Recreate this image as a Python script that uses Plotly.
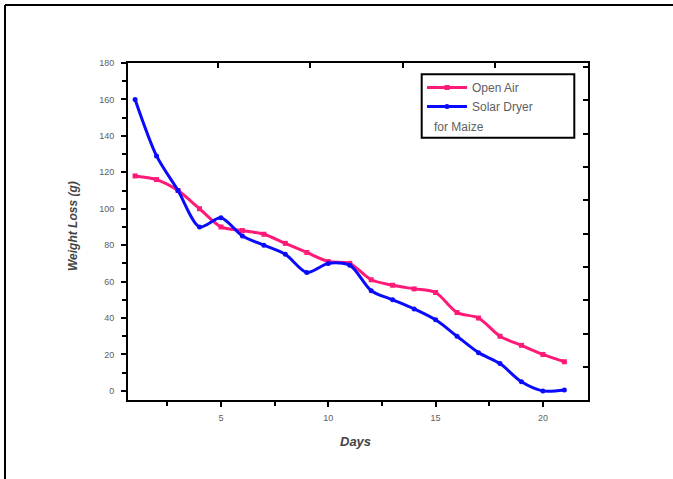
import plotly.graph_objects as go

days = list(range(1, 22))
open_air = [118, 116, 110, 100, 90, 88, 86, 81, 76, 71, 70, 61, 58, 56, 54, 43, 40, 30, 25, 20, 16]
solar_dryer = [160, 129, 110, 90, 95, 85, 80, 75, 65, 70, 69, 55, 50, 45, 39, 30, 21, 15, 5, 0, 0.5]

series_names = ["Open Air", "Solar Dryer"]
legend_extra = "for Maize"
x_title = "Days"
y_title = "Weight Loss (g)"

PINK = "#FF1A78"
BLUE = "#0A0AFF"
GRAY = "#606060"

W, H = 673, 479
L, R, T, B = 128, 85, 63, 79
PW, PH = W - L - R, H - T - B


def px(xp):
    return (xp - L) / PW


def py(yp):
    return (H - B - yp) / PH


fig = go.Figure()
fig.add_trace(go.Scatter(
    x=days, y=open_air, name=series_names[0], mode="lines+markers",
    line=dict(color=PINK, width=3, shape="spline", smoothing=0.8),
    marker=dict(symbol="square", size=5, color=PINK)))
fig.add_trace(go.Scatter(
    x=days, y=solar_dryer, name=series_names[1], mode="lines+markers",
    line=dict(color=BLUE, width=3, shape="spline", smoothing=0.8),
    marker=dict(symbol="circle", size=5, color=BLUE)))
fig.add_trace(go.Scatter(x=[None], y=[None], xaxis="x2", yaxis="y2",
                         showlegend=False, hoverinfo="skip"))

fig.update_layout(
    width=W, height=H,
    margin=dict(l=L, r=R, t=T, b=B),
    paper_bgcolor="white", plot_bgcolor="white",
    font=dict(family="Liberation Sans, Arial, sans-serif", color=GRAY, size=9),
    xaxis=dict(range=[0.67, 22.1], tick0=0, dtick=5, ticks="outside", ticklen=5,
               tickwidth=1.5, tickcolor="black", showline=True, linecolor="black",
               linewidth=2, showgrid=False, zeroline=False, ticklabelstandoff=3,
               minor=dict(dtick=2.5, ticks="outside", ticklen=4, tickcolor="black"),
               tickfont=dict(size=9, color=GRAY)),
    yaxis=dict(range=[-5, 180], tick0=0, dtick=20, ticks="outside", ticklen=5,
               tickwidth=1.5, tickcolor="black", showline=True, linecolor="black",
               linewidth=2, showgrid=False, zeroline=False, ticklabelstandoff=5,
               minor=dict(dtick=10, ticks="outside", ticklen=4, tickcolor="black"),
               tickfont=dict(size=9, color=GRAY)),
    xaxis2=dict(overlaying="x", side="top", range=[0.67, 22.1], tick0=4.86, dtick=4.3,
                ticks="inside", ticklen=5, tickwidth=1.5, tickcolor="black",
                showticklabels=False, showline=True, linecolor="black", linewidth=2,
                showgrid=False, zeroline=False),
    yaxis2=dict(overlaying="y", side="right", range=[-5, 180], tick0=13.2, dtick=18.3,
                ticks="inside", ticklen=5, tickwidth=1.5, tickcolor="black",
                showticklabels=False, showline=True, linecolor="black", linewidth=2,
                showgrid=False, zeroline=False),
    showlegend=True,
    legend=dict(x=px(422), y=py(73), xanchor="left", yanchor="top",
                bgcolor="rgba(0,0,0,0)", borderwidth=0,
                font=dict(size=12, color=GRAY), tracegroupgap=0,
                itemwidth=40),
)

# legend frame
fig.add_shape(type="rect", xref="paper", yref="paper",
              x0=px(421.7), x1=px(574.3), y0=py(137.7), y1=py(74.3),
              line=dict(color="black", width=2))
fig.add_annotation(text=legend_extra, xref="paper", yref="paper",
                   x=px(432), y=py(127), xanchor="left", yanchor="middle",
                   showarrow=False, font=dict(size=12, color=GRAY))

# outer frame (top and left)
fig.add_shape(type="line", xref="paper", yref="paper",
              x0=px(5), x1=px(673), y0=py(5), y1=py(5),
              line=dict(color="black", width=2))
fig.add_shape(type="line", xref="paper", yref="paper",
              x0=px(5), x1=px(5), y0=py(5), y1=py(479),
              line=dict(color="black", width=2))

# axis titles
fig.add_annotation(text="<b><i>" + x_title + "</i></b>", xref="paper", yref="paper",
                   x=px(355), y=py(441), xanchor="center", yanchor="middle",
                   showarrow=False, font=dict(size=13, color="#444444"))
fig.add_annotation(text="<b><i>" + y_title + "</i></b>", xref="paper", yref="paper",
                   x=px(73), y=py(226), xanchor="center", yanchor="middle",
                   showarrow=False, textangle=-90,
                   font=dict(size=12, color="#444444"))

fig.write_html("out.html", config={"displayModeBar": False},
               post_script="document.body.style.margin='0px';")
